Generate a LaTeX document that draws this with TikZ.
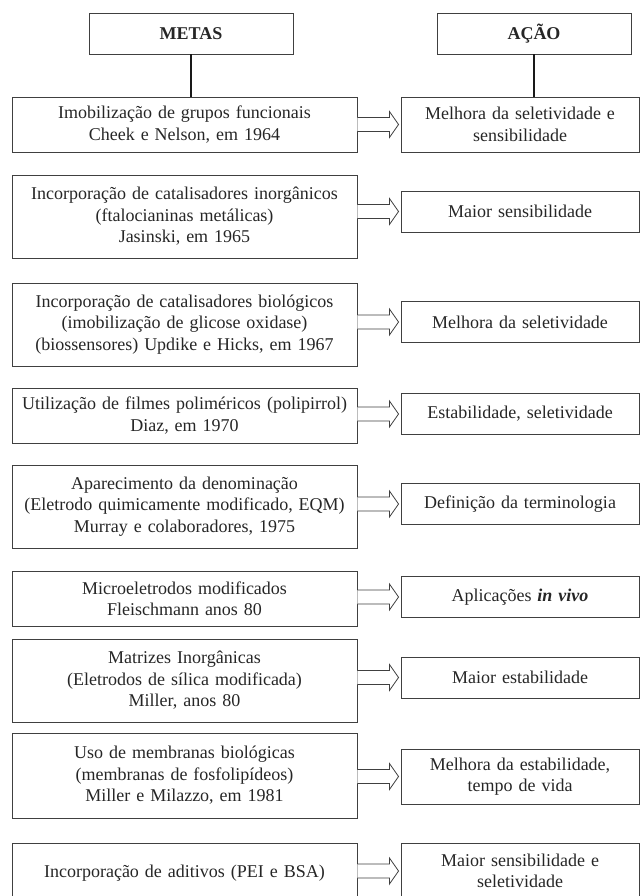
\documentclass[tikz,border=0pt]{standalone}
\usepackage{fontspec}
\setmainfont{Liberation Serif}
\usetikzlibrary{calc}
\tikzset{>=latex}
\tikzset{
  caixa/.style={draw=black!75, line width=0.9pt, inner sep=0pt, align=center,
    font=\fontsize{18}{21.5}\selectfont, text=black!85},
  meta/.style={caixa, text width=345pt},
  acao/.style={caixa, text width=238pt},
  titulo/.style={caixa, minimum height=41pt, font=\fontsize{18}{21.5}\selectfont\bfseries},
  haste/.style={line width=2.6pt, black!90},
  vazada/.style={draw=black!75, line width=0.8pt, fill=white}
}
\newcommand{\setavazada}[2]{
  \draw[vazada] ($(#1.east |- #2.west)+(0,-7)$) -- ++(32,0) -- ++(0,-6)
    -- ($(#2.west)+(-2,0)$) -- ($(#1.east |- #2.west)+(32,13)$) -- ++(0,-6)
    -- ($(#1.east |- #2.west)+(0,7)$);
}

\begin{document}
\begin{tikzpicture}[x=1pt,y=-1pt]
  \useasboundingbox (0,0) rectangle (640,896);
  \clip (0,0) rectangle (640,896);

  \node[titulo, text width=204pt] (metas) at (191,33.5) {METAS};
  \node[titulo, text width=194pt] (acao) at (534,33.5) {AÇÃO};

  \node[meta, minimum height=55pt] (m1) at (184.5,124.5)
    {Imobilização de grupos funcionais\\Cheek e Nelson, em 1964};
  \node[meta, minimum height=83pt] (m2) at (184.5,216.5)
    {Incorporação de catalisadores inorgânicos\\(ftalocianinas metálicas)\\Jasinski, em 1965};
  \node[meta, minimum height=83pt] (m3) at (184.5,324.5)
    {Incorporação de catalisadores biológicos\\(imobilização de glicose oxidase)\\(biossensores) Updike e Hicks, em 1967};
  \node[meta, minimum height=55pt] (m4) at (184.5,415.5)
    {Utilização de filmes poliméricos (polipirrol)\\Diaz, em 1970};
  \node[meta, minimum height=83pt] (m5) at (184.5,506.5)
    {Aparecimento da denominação\\(Eletrodo quimicamente modificado, EQM)\\Murray e colaboradores, 1975};
  \node[meta, minimum height=55pt] (m6) at (184.5,598.5)
    {Microeletrodos modificados\\Fleischmann anos 80};
  \node[meta, minimum height=83pt] (m7) at (184.5,680.5)
    {Matrizes Inorgânicas\\(Eletrodos de sílica modificada)\\Miller, anos 80};
  \node[meta, minimum height=85pt] (m8) at (184.5,775.5)
    {Uso de membranas biológicas\\(membranas de fosfolipídeos)\\Miller e Milazzo, em 1981};
  \node[meta, minimum height=60pt] (m9) at (184.5,873)
    {Incorporação de aditivos (PEI e BSA)};

  \node[acao, minimum height=55pt] (a1) at (520,124.5)
    {Melhora da seletividade e\\sensibilidade};
  \node[acao, minimum height=41pt] (a2) at (520,211.5) {Maior sensibilidade};
  \node[acao, minimum height=41pt] (a3) at (520,322) {Melhora da seletividade};
  \node[acao, minimum height=41pt] (a4) at (520,414) {Estabilidade, seletividade};
  \node[acao, minimum height=41pt] (a5) at (520,504) {Definição da terminologia};
  \node[acao, minimum height=41pt] (a6) at (520,597) {Aplicações \textbf{\textit{in vivo}}};
  \node[acao, minimum height=41pt] (a7) at (520,677.5) {Maior estabilidade};
  \node[acao, minimum height=55pt] (a8) at (520,776.5)
    {Melhora da estabilidade,\\tempo de vida};
  \node[acao, minimum height=55pt] (a9) at (520,871)
    {Maior sensibilidade e\\seletividade};

  \draw[haste] (metas.south) -- (metas.south |- m1.north);
  \draw[haste] (acao.south) -- (acao.south |- a1.north);

  \foreach \i in {1,...,9} {
    \setavazada{m\i}{a\i}
  }
\end{tikzpicture}
\end{document}
